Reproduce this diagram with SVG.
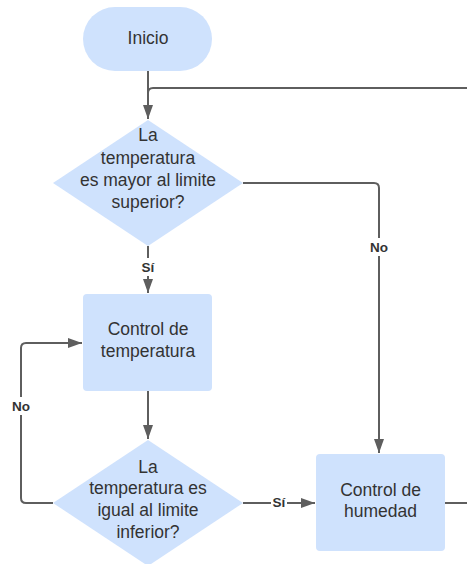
<svg xmlns="http://www.w3.org/2000/svg" width="467" height="564" viewBox="0 0 467 564">
<defs>
<marker id="ah" markerWidth="10" markerHeight="10" refX="9" refY="5" orient="auto" markerUnits="userSpaceOnUse" viewBox="0 0 10 10">
<path d="M0,0 L10,5 L0,10 Z" fill="#5e5e5e"/>
</marker>
<marker id="arr" markerWidth="14" markerHeight="10" refX="14" refY="5" orient="auto" markerUnits="userSpaceOnUse" viewBox="0 0 14 10">
<path d="M0,0 L14,5 L0,10 Z" fill="#5e5e5e"/>
</marker>
</defs>
<style>
.shape{fill:#cfe2fd;stroke:none}
.t{font-family:"Liberation Sans",Arial,sans-serif;font-size:17.5px;fill:#333333;text-anchor:middle}
.lbl{font-family:"Liberation Sans",Arial,sans-serif;font-size:13.5px;font-weight:bold;fill:#333333;text-anchor:middle}
.c{fill:none;stroke:#5e5e5e;stroke-width:2}
.bg{fill:#ffffff}
</style>
<rect width="467" height="564" fill="#ffffff"/>
<g id="connectors">
<path class="c" d="M148,71 V119" marker-end="url(#arr)"/>
<path class="c" d="M467,88 H153 Q148,88 148,93 V105"/>
<path class="c" d="M148,246 V293" marker-end="url(#arr)"/>
<rect class="bg" x="138" y="258" width="20" height="18"/>
<text class="lbl" x="148" y="272">Sí</text>
<path class="c" d="M243,183 H374 Q379,183 379,188 V453" marker-end="url(#arr)"/>
<rect class="bg" x="368" y="238" width="22" height="18"/>
<text class="lbl" x="379" y="252">No</text>
<path class="c" d="M148,391 V439" marker-end="url(#arr)"/>
<path class="c" d="M53,503 H26 Q21,503 21,498 V348 Q21,343 26,343 H82" marker-end="url(#arr)"/>
<rect class="bg" x="10" y="397" width="22" height="18"/>
<text class="lbl" x="21" y="411">No</text>
<path class="c" d="M243,503 H315" marker-end="url(#arr)"/>
<rect class="bg" x="271" y="494" width="16" height="16"/>
<text class="lbl" x="279" y="507">Sí</text>
<path class="c" d="M445,503 H467"/>
</g>
<g id="inicio">
<rect class="shape" x="83" y="7" width="129" height="64" rx="32" ry="32"/>
<text class="t" x="148" y="44">Inicio</text>
</g>
<g id="decision1">
<polygon class="shape" points="148,120 243,183 148,246 53,183"/>
<text class="t" x="148" y="141">La</text>
<text class="t" x="148" y="164">temperatura</text>
<text class="t" x="148" y="186">es mayor al limite</text>
<text class="t" x="148" y="208">superior?</text>
</g>
<g id="control-temperatura">
<rect class="shape" x="83" y="294" width="129" height="97" rx="4" ry="4"/>
<text class="t" x="148" y="335">Control de</text>
<text class="t" x="148" y="357">temperatura</text>
</g>
<g id="decision2">
<polygon class="shape" points="148,440 243,503 148,566 53,503"/>
<text class="t" x="148" y="473">La</text>
<text class="t" x="148" y="494">temperatura es</text>
<text class="t" x="148" y="516">igual al limite</text>
<text class="t" x="148" y="538">inferior?</text>
</g>
<g id="control-humedad">
<rect class="shape" x="316" y="454" width="129" height="97" rx="4" ry="4"/>
<text class="t" x="380.5" y="496">Control de</text>
<text class="t" x="380.5" y="517">humedad</text>
</g>
</svg>
